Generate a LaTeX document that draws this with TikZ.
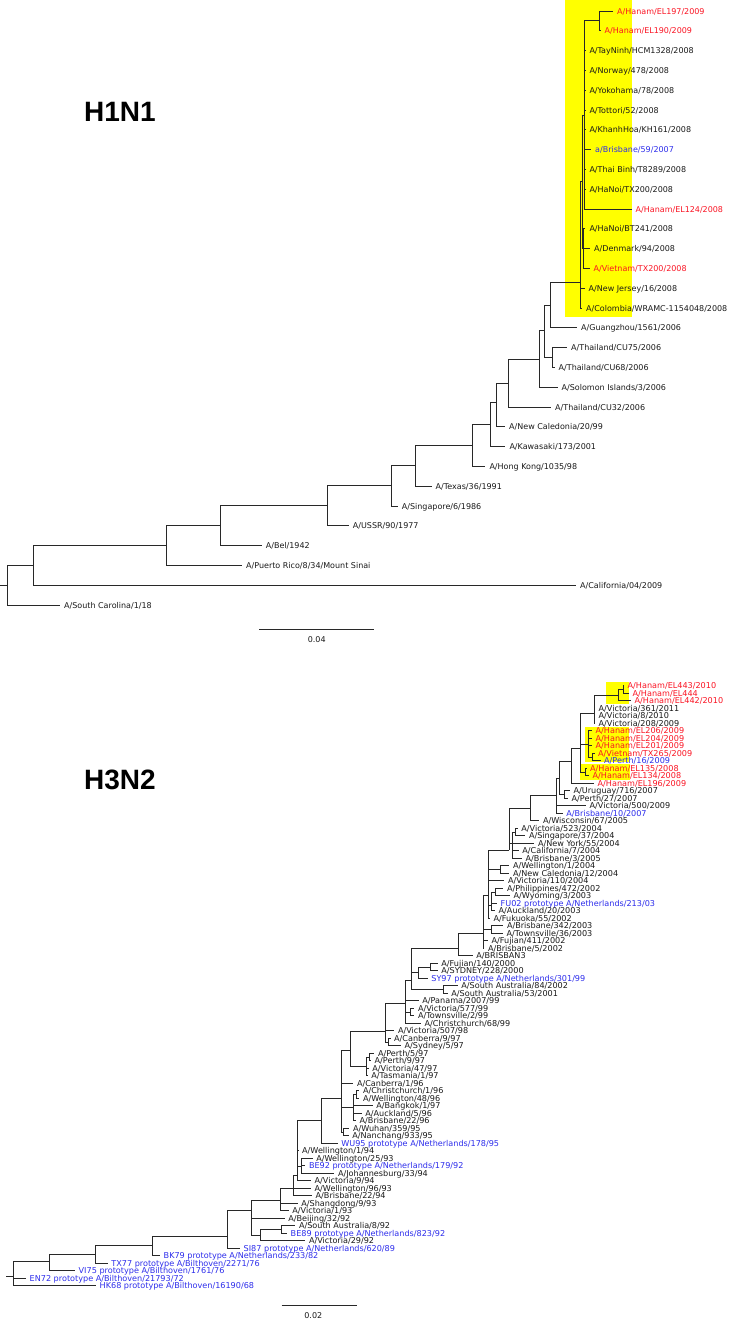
\documentclass[tikz,border=0pt]{standalone}
\usepackage{fontspec}
\setmainfont{DejaVu Sans}
\newfontfamily\labfam{DejaVu Sans}
\newfontfamily\titfam{Liberation Sans}
\definecolor{redc}{RGB}{250,20,35}
\definecolor{bluec}{RGB}{45,45,235}
\definecolor{txtc}{RGB}{25,25,25}
\definecolor{linec}{RGB}{40,40,40}
\definecolor{hil}{RGB}{255,255,0}
\newcommand\labA{\labfam\fontsize{8}{9}\selectfont}
\newcommand\labB{\labfam\fontsize{8.1}{9}\selectfont}
\newcommand\titf{\titfam\bfseries\fontsize{28}{30}\selectfont}
\tikzset{
  lfa/.style={anchor=west, inner xsep=4pt, inner ysep=0pt, text height=6pt, text depth=0pt, font=\labA, text=txtc},
  lfb/.style={lfa, font=\labB, inner xsep=3.5pt},
  rd/.style={text=redc},
  bl/.style={text=bluec},
  br/.style={draw=linec, line width=0.8pt},
  bra/.style={draw=linec, line width=1pt},
  hl/.style={fill=hil, draw=none},
  ttl/.style={anchor=base west, inner sep=0pt, font=\titf, text=black},
  scl/.style={anchor=base, inner sep=0pt, font=\labA, text=txtc}
}
\begin{document}
\begin{tikzpicture}[x=1pt,y=-1pt]
\useasboundingbox (0,0) rectangle (732,1320);
% highlight boxes
\path[hl] (565,0) rectangle (631.5,316.5);
\path[hl] (606,682) rectangle (629,704);
\path[hl] (585,727) rectangle (629,762);
\path[hl] (580,764) rectangle (630,779.5);
% titles
\node[ttl] (t1) at (84,121) {H1N1};
\node[ttl] (t2) at (84,789.3) {H3N2};
% ================= H1N1 leaves
\node[lfa,rd] (a1) at (613,11) {A/Hanam/EL197/2009};
\node[lfa,rd] (a2) at (600.5,30.8) {A/Hanam/EL190/2009};
\node[lfa] (a3) at (585.3,50.6) {A/TayNinh/HCM1328/2008};
\node[lfa] (a4) at (585.3,70.4) {A/Norway/478/2008};
\node[lfa] (a5) at (585.3,90.2) {A/Yokohama/78/2008};
\node[lfa] (a6) at (585.3,110) {A/Tottori/52/2008};
\node[lfa] (a7) at (585.3,129.8) {A/KhanhHoa/KH161/2008};
\node[lfa,bl] (a8) at (591,149.6) {a/Brisbane/59/2007};
\node[lfa] (a9) at (585.3,169.4) {A/Thai Binh/T8289/2008};
\node[lfa] (a10) at (585.3,189.2) {A/HaNoi/TX200/2008};
\node[lfa,rd] (a11) at (631.5,209) {A/Hanam/EL124/2008};
\node[lfa] (a12) at (585.3,228.8) {A/HaNoi/BT241/2008};
\node[lfa] (a13) at (590,248.6) {A/Denmark/94/2008};
\node[lfa,rd] (a14) at (589.5,268.4) {A/Vietnam/TX200/2008};
\node[lfa] (a15) at (584.5,288.2) {A/New Jersey/16/2008};
\node[lfa] (a16) at (582,308) {A/Colombia/WRAMC-1154048/2008};
\node[lfa] (a17) at (577,327.8) {A/Guangzhou/1561/2006};
\node[lfa] (a18) at (567,347.6) {A/Thailand/CU75/2006};
\node[lfa] (a19) at (554.5,367.4) {A/Thailand/CU68/2006};
\node[lfa] (a20) at (557.5,387.2) {A/Solomon Islands/3/2006};
\node[lfa] (a21) at (551,407) {A/Thailand/CU32/2006};
\node[lfa] (a22) at (505,426.8) {A/New Caledonia/20/99};
\node[lfa] (a23) at (505.3,446.6) {A/Kawasaki/173/2001};
\node[lfa] (a24) at (485.3,466.4) {A/Hong Kong/1035/98};
\node[lfa] (a25) at (431.5,486.2) {A/Texas/36/1991};
\node[lfa] (a26) at (397.7,506) {A/Singapore/6/1986};
\node[lfa] (a27) at (348.7,525.8) {A/USSR/90/1977};
\node[lfa] (a28) at (261.7,545.6) {A/Bel/1942};
\node[lfa] (a29) at (242,565.4) {A/Puerto Rico/8/34/Mount Sinai};
\node[lfa] (a30) at (576,585.2) {A/California/04/2009};
\node[lfa] (a31) at (60,605) {A/South Carolina/1/18};
% H1N1 internal nodes
\coordinate (hE) at (599,20.9);
\coordinate (hA) at (584.5,115);
\coordinate (hC) at (583.5,248.6);
\coordinate (hB) at (582,181.8);
\coordinate (hY) at (580,282.7);
\coordinate (hG1) at (550,305.3);
\coordinate (hGc) at (552.3,357.5);
\coordinate (hG2) at (544,330);
\coordinate (hG3) at (539.3,359.3);
\coordinate (hG4) at (508.3,383);
\coordinate (hG5) at (496.7,402);
\coordinate (hG6) at (490,424);
\coordinate (hG7) at (472.7,445.2);
\coordinate (hG8) at (415,465.7);
\coordinate (hG9) at (391.7,485.9);
\coordinate (hG10) at (327,505.8);
\coordinate (hG11) at (220,525.7);
\coordinate (hG12) at (166.7,545.6);
\coordinate (hG13) at (33.3,565.4);
\coordinate (hR) at (7.3,585.2);
\coordinate (hS) at (0,585.2);
\foreach \p/\c in {hE/a1.west, hE/a2.west, hA/hE, hA/a3.west, hA/a4.west, hA/a5.west, hA/a6.west,
  hA/a7.west, hA/a8.west, hA/a9.west, hA/a10.west, hA/a11.west, hC/a12.west, hC/a13.west, hC/a14.west,
  hB/hA, hB/hC, hY/hB, hY/a15.west, hY/a16.west, hG1/hY, hG1/a17.west, hGc/a18.west, hGc/a19.west,
  hG2/hG1, hG2/hGc, hG3/hG2, hG3/a20.west, hG4/hG3, hG4/a21.west, hG5/hG4, hG5/a22.west,
  hG6/hG5, hG6/a23.west, hG7/hG6, hG7/a24.west, hG8/hG7, hG8/a25.west, hG9/hG8, hG9/a26.west,
  hG10/hG9, hG10/a27.west, hG11/hG10, hG11/a28.west, hG12/hG11, hG12/a29.west, hG13/hG12,
  hG13/a30.west, hR/hG13, hR/a31.west}
  {\draw[bra] (\p) |- (\c);}
\draw[bra] (hS) -- (hR);
% H1N1 scale
\coordinate (sa1) at (259.3,629.3);
\coordinate (sa2) at (374,629.3);
\draw[bra] (sa1) -- (sa2);
\node[scl] (sl1) at (316.7,642) {0.04};
% ================= H3N2 leaves
\node[lfb,rd] (b1) at (624,685.7) {A/Hanam/EL443/2010};
\node[lfb,rd] (b2) at (629,693.2) {A/Hanam/EL444};
\node[lfb,rd] (b3) at (631,700.7) {A/Hanam/EL442/2010};
\node[lfb] (b4) at (595,708.2) {A/Victoria/361/2011};
\node[lfb] (b5) at (595,715.7) {A/Victoria/8/2010};
\node[lfb] (b6) at (595,723.2) {A/Victoria/208/2009};
\node[lfb,rd] (b7) at (592,730.7) {A/Hanam/EL206/2009};
\node[lfb,rd] (b8) at (592,738.2) {A/Hanam/EL204/2009};
\node[lfb,rd] (b9) at (592,745.7) {A/Hanam/EL201/2009};
\node[lfb,rd] (b10) at (594.5,753.2) {A/Vietnam/TX265/2009};
\node[lfb,bl] (b11) at (600.5,760.7) {A/Perth/16/2009};
\node[lfb,rd] (b12) at (586.5,768.2) {A/Hanam/EL135/2008};
\node[lfb,rd] (b13) at (589,775.7) {A/Hanam/EL134/2008};
\node[lfb,rd] (b14) at (594,783.2) {A/Hanam/EL196/2009};
\node[lfb] (b15) at (570,790.7) {A/Uruguay/716/2007};
\node[lfb] (b16) at (568,798.2) {A/Perth/27/2007};
\node[lfb] (b17) at (586,805.7) {A/Victoria/500/2009};
\node[lfb,bl] (b18) at (562.7,813.2) {A/Brisbane/10/2007};
\node[lfb] (b19) at (539.3,820.7) {A/Wisconsin/67/2005};
\node[lfb] (b20) at (517.7,828.2) {A/Victoria/523/2004};
\node[lfb] (b21) at (525.3,835.7) {A/Singapore/37/2004};
\node[lfb] (b22) at (534.3,843.2) {A/New York/55/2004};
\node[lfb] (b23) at (518.7,850.7) {A/California/7/2004};
\node[lfb] (b24) at (522,858.2) {A/Brisbane/3/2005};
\node[lfb] (b25) at (509.3,865.7) {A/Wellington/1/2004};
\node[lfb] (b26) at (509.3,873.2) {A/New Caledonia/12/2004};
\node[lfb] (b27) at (504.3,880.7) {A/Victoria/110/2004};
\node[lfb] (b28) at (503.3,888.2) {A/Philippines/472/2002};
\node[lfb] (b29) at (510,895.7) {A/Wyoming/3/2003};
\node[lfb,bl] (b30) at (497,903.2) {FU02 prototype A/Netherlands/213/03};
\node[lfb] (b31) at (495,910.7) {A/Auckland/20/2003};
\node[lfb] (b32) at (490,918.2) {A/Fukuoka/55/2002};
\node[lfb] (b33) at (503.3,925.7) {A/Brisbane/342/2003};
\node[lfb] (b34) at (503,933.2) {A/Townsville/36/2003};
\node[lfb] (b35) at (488,940.7) {A/Fujian/411/2002};
\node[lfb] (b36) at (484.3,948.2) {A/Brisbane/5/2002};
\node[lfb] (b37) at (472.7,955.7) {A/BRISBAN3};
\node[lfb] (b38) at (437.7,963.2) {A/Fujian/140/2000};
\node[lfb] (b39) at (437.7,970.7) {A/SYDNEY/228/2000};
\node[lfb,bl] (b40) at (427.7,978.2) {SY97 prototype A/Netherlands/301/99};
\node[lfb] (b41) at (457.7,985.7) {A/South Australia/84/2002};
\node[lfb] (b42) at (447.7,993.2) {A/South Australia/53/2001};
\node[lfb] (b43) at (418.7,1000.7) {A/Panama/2007/99};
\node[lfb] (b44) at (414.3,1008.2) {A/Victoria/577/99};
\node[lfb] (b45) at (414.3,1015.7) {A/Townsville/2/99};
\node[lfb] (b46) at (421,1023.2) {A/Christchurch/68/99};
\node[lfb] (b47) at (394.3,1030.7) {A/Victoria/507/98};
\node[lfb] (b48) at (390.5,1038.2) {A/Canberra/9/97};
\node[lfb] (b49) at (401,1045.7) {A/Sydney/5/97};
\node[lfb] (b50) at (374.3,1053.2) {A/Perth/5/97};
\node[lfb] (b51) at (371,1060.7) {A/Perth/9/97};
\node[lfb] (b52) at (368.7,1068.2) {A/Victoria/47/97};
\node[lfb] (b53) at (367.7,1075.7) {A/Tasmania/1/97};
\node[lfb] (b54) at (353.3,1083.2) {A/Canberra/1/96};
\node[lfb] (b55) at (359.3,1090.7) {A/Christchurch/1/96};
\node[lfb] (b56) at (359.3,1098.2) {A/Wellington/48/96};
\node[lfb] (b57) at (372.7,1105.7) {A/Bangkok/1/97};
\node[lfb] (b58) at (361.7,1113.2) {A/Auckland/5/96};
\node[lfb] (b59) at (356,1120.7) {A/Brisbane/22/96};
\node[lfb] (b60) at (349.3,1128.2) {A/Wuhan/359/95};
\node[lfb] (b61) at (348.7,1135.7) {A/Nanchang/933/95};
\node[lfb,bl] (b62) at (337.7,1143.2) {WU95 prototype A/Netherlands/178/95};
\node[lfb] (b63) at (298.5,1150.7) {A/Wellington/1/94};
\node[lfb] (b64) at (312.7,1158.2) {A/Wellington/25/93};
\node[lfb,bl] (b65) at (305.3,1165.7) {BE92 prototype A/Netherlands/179/92};
\node[lfb] (b66) at (334.3,1173.2) {A/Johannesburg/33/94};
\node[lfb] (b67) at (311,1180.7) {A/Victoria/9/94};
\node[lfb] (b68) at (311,1188.2) {A/Wellington/96/93};
\node[lfb] (b69) at (312,1195.7) {A/Brisbane/22/94};
\node[lfb] (b70) at (297.7,1203.2) {A/Shangdong/9/93};
\node[lfb] (b71) at (288.7,1210.7) {A/Victoria/1/93};
\node[lfb] (b72) at (284.7,1218.2) {A/Beijing/32/92};
\node[lfb] (b73) at (295.3,1225.7) {A/South Australia/8/92};
\node[lfb,bl] (b74) at (287,1233.2) {BE89 prototype A/Netherlands/823/92};
\node[lfb] (b75) at (305.3,1240.7) {A/Victoria/29/92};
\node[lfb,bl] (b76) at (240,1248.2) {SI87 prototype A/Netherlands/620/89};
\node[lfb,bl] (b77) at (160,1255.7) {BK79 prototype A/Netherlands/233/82};
\node[lfb,bl] (b78) at (107.7,1263.2) {TX77 prototype A/Bilthoven/2271/76};
\node[lfb,bl] (b79) at (75,1270.7) {VI75 prototype A/Bilthoven/1761/76};
\node[lfb,bl] (b80) at (26,1278.2) {EN72 prototype A/Bilthoven/21793/72};
\node[lfb,bl] (b81) at (96,1285.7) {HK68 prototype A/Bilthoven/16190/68};
% H3N2 internal nodes
\coordinate (T1a) at (623.3,689.5);
\coordinate (T1) at (618.3,695);
\coordinate (T2) at (594,713.3);
\coordinate (T3d) at (592.7,757);
\coordinate (T3b) at (588.3,744);
\coordinate (T3c) at (585,772);
\coordinate (T3) at (580,748);
\coordinate (T4) at (571.7,761.7);
\coordinate (T5b) at (564,794.5);
\coordinate (T5) at (559.3,778);
\coordinate (N20) at (556.7,795.5);
\coordinate (N19) at (530,808);
\coordinate (N18c) at (515.7,832);
\coordinate (N18b) at (512,843);
\coordinate (N18) at (509.3,850);
\coordinate (N17w) at (500,869.5);
\coordinate (N17p) at (495,892);
\coordinate (N17b) at (491,905);
\coordinate (N17) at (488.3,895);
\coordinate (N16b) at (491.7,929.5);
\coordinate (N16) at (483.3,933);
\coordinate (N15) at (458.3,948);
\coordinate (N14d) at (430,967);
\coordinate (N14b) at (418.3,972.6);
\coordinate (N14c) at (443.3,989.5);
\coordinate (N14) at (411.7,980);
\coordinate (N13b) at (410,1012);
\coordinate (N13) at (405,1003.3);
\coordinate (N12b) at (388.3,1042);
\coordinate (N12) at (385,1031.7);
\coordinate (N11c) at (369,1057);
\coordinate (N11b) at (366.7,1066);
\coordinate (N11) at (350,1050);
\coordinate (N10d) at (356.7,1094.5);
\coordinate (N10b) at (353.3,1107.6);
\coordinate (N10c) at (343.3,1132);
\coordinate (N10) at (341.7,1098.3);
\coordinate (N9) at (321.7,1120);
\coordinate (N8b) at (301.7,1166);
\coordinate (N8) at (297.3,1175);
\coordinate (N7) at (293,1188);
\coordinate (N6) at (280,1200);
\coordinate (N5c) at (281.7,1229.5);
\coordinate (N5b) at (260,1235);
\coordinate (N5) at (251.7,1210);
\coordinate (N4) at (227.7,1236.7);
\coordinate (N3) at (152.7,1245);
\coordinate (N2) at (95.7,1254);
\coordinate (N1) at (49.3,1261.7);
\coordinate (R0) at (13.3,1276.7);
\coordinate (S0) at (6,1276.7);
\foreach \p/\c in {T1a/b1.west, T1a/b2.west, T1/T1a, T1/b3.west, T2/T1, T2/b4.west, T2/b5.west,
  T2/b6.west, T3d/b10.west, T3d/b11.west, T3b/b7.west, T3b/b8.west, T3b/b9.west, T3b/T3d,
  T3c/b12.west, T3c/b13.west, T3/T2, T3/T3b, T3/T3c, T4/T3, T4/b14.west, T5b/b15.west,
  T5b/b16.west, T5/T4, T5/T5b, N20/T5, N20/b17.west, N20/b18.west, N19/N20, N19/b19.west,
  N18c/b20.west, N18c/b21.west, N18b/N18c, N18b/b22.west, N18b/b23.west, N18b/b24.west,
  N18/N19, N18/N18b, N17w/b25.west, N17w/b26.west, N17p/b28.west, N17p/b29.west, N17b/N17p,
  N17b/b30.west, N17b/b31.west, N17/N18, N17/N17w, N17/b27.west, N17/N17b, N17/b32.west,
  N16b/b33.west, N16b/b34.west, N16/N17, N16/N16b, N16/b35.west, N16/b36.west, N15/N16,
  N15/b37.west, N14d/b38.west, N14d/b39.west, N14b/N14d, N14b/b40.west, N14c/b41.west,
  N14c/b42.west, N14/N15, N14/N14b, N14/N14c, N13b/b44.west, N13b/b45.west, N13/N14,
  N13/b43.west, N13/N13b, N13/b46.west, N12b/b48.west, N12b/b49.west, N12/N13, N12/b47.west,
  N12/N12b, N11c/b50.west, N11c/b51.west, N11b/N11c, N11b/b52.west, N11b/b53.west, N11/N12,
  N11/N11b, N10d/b55.west, N10d/b56.west, N10b/N10d, N10b/b57.west, N10b/b58.west,
  N10b/b59.west, N10c/b60.west, N10c/b61.west, N10/N11, N10/b54.west, N10/N10b, N10/N10c,
  N9/N10, N9/b62.west, N8b/b64.west, N8b/b65.west, N8b/b66.west, N8/N9, N8/b63.west, N8/N8b,
  N8/b67.west, N7/N8, N7/b68.west, N7/b69.west, N6/N7, N6/b70.west, N6/b71.west,
  N5c/b73.west, N5c/b74.west, N5b/N5c, N5b/b75.west, N5/N6, N5/b72.west, N5/N5b, N4/N5,
  N4/b76.west, N3/N4, N3/b77.west, N2/N3, N2/b78.west, N1/N2, N1/b79.west, R0/N1,
  R0/b80.west, R0/b81.west}
  {\draw[br] (\p) |- (\c);}
\draw[br] (S0) -- (R0);
% H3N2 scale
\coordinate (sb1) at (281.7,1305);
\coordinate (sb2) at (356.7,1305);
\draw[br] (sb1) -- (sb2);
\node[scl] (sl2) at (313.3,1318.3) {0.02};
\end{tikzpicture}
\end{document}
